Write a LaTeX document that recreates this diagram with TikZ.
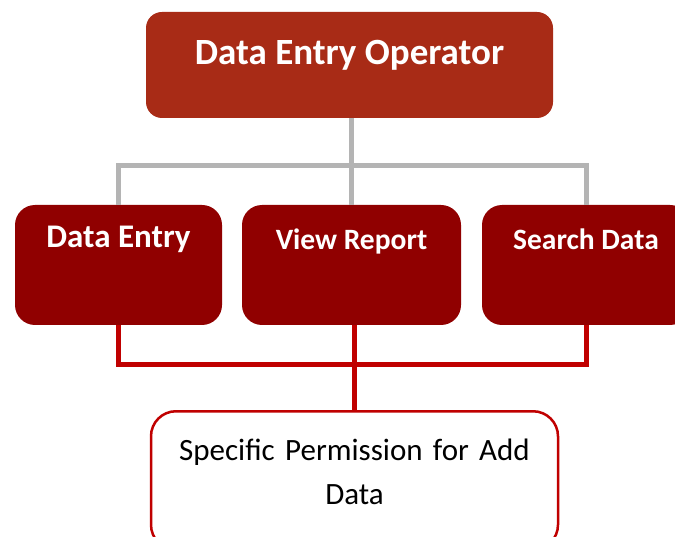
\documentclass[tikz,border=0pt]{standalone}
\usepackage{fontspec}
\setmainfont{Carlito}
\usepackage{tikz}
\definecolor{opred}{RGB}{168,43,22}
\definecolor{taskred}{RGB}{144,0,0}
\definecolor{linkred}{RGB}{192,0,0}
\definecolor{linkgray}{RGB}{180,180,180}

\begin{document}
\begin{tikzpicture}[x=1pt,y=-1pt,
    opbox/.style={fill=opred, rounded corners=16pt, inner sep=0pt, minimum width=407pt,
        text=white, font=\bfseries\fontsize{37}{44}\selectfont},
    taskbox/.style={fill=taskred, rounded corners=20pt, inner sep=0pt, minimum width=#1,
        text=white, font=\bfseries\fontsize{29.5}{34}\selectfont},
    grayline/.style={draw=linkgray, line width=5pt},
    redline/.style={draw=linkred, line width=5pt}]
        \useasboundingbox (0,0) rectangle (675,537);
        \node[opbox, anchor=base, text height=53pt, text depth=53pt] (op) at (349.5,65) {Data Entry Operator};
        \node[taskbox=207pt, anchor=base, text height=43pt, text depth=77pt,
            font=\bfseries\fontsize{33}{38}\selectfont] (de) at (118.5,248) {Data Entry};
        \node[taskbox=219pt, anchor=base, text height=45pt, text depth=75pt] (vr) at (351.5,250) {View Report};
        \node[taskbox=208pt, anchor=base, text height=45pt, text depth=75pt] (sd) at (586,250) {Search Data};
        \node[draw=linkred, line width=2.5pt, fill=white, rounded corners=25pt, anchor=north,
            minimum width=407pt, inner xsep=0pt, inner ysep=28pt, text width=400pt, align=center,
            font=\fontsize{31}{44}\selectfont] (sp) at (354.5,410)
            {Specific Permission for Add\\Data\rule[-17pt]{0pt}{17pt}};
        \coordinate (gj) at (351,166);
        \coordinate (rj) at (354,365);
        \draw[grayline] (gj |- op.south) -- (gj |- vr.north);
        \draw[grayline] (de.north) |- (gj) -| (sd.north);
        \draw[redline] (de.south) |- (rj) -| (sd.south);
        \draw[redline] (rj |- vr.south) -- (rj |- sp.north);
    \end{tikzpicture}
\end{document}
